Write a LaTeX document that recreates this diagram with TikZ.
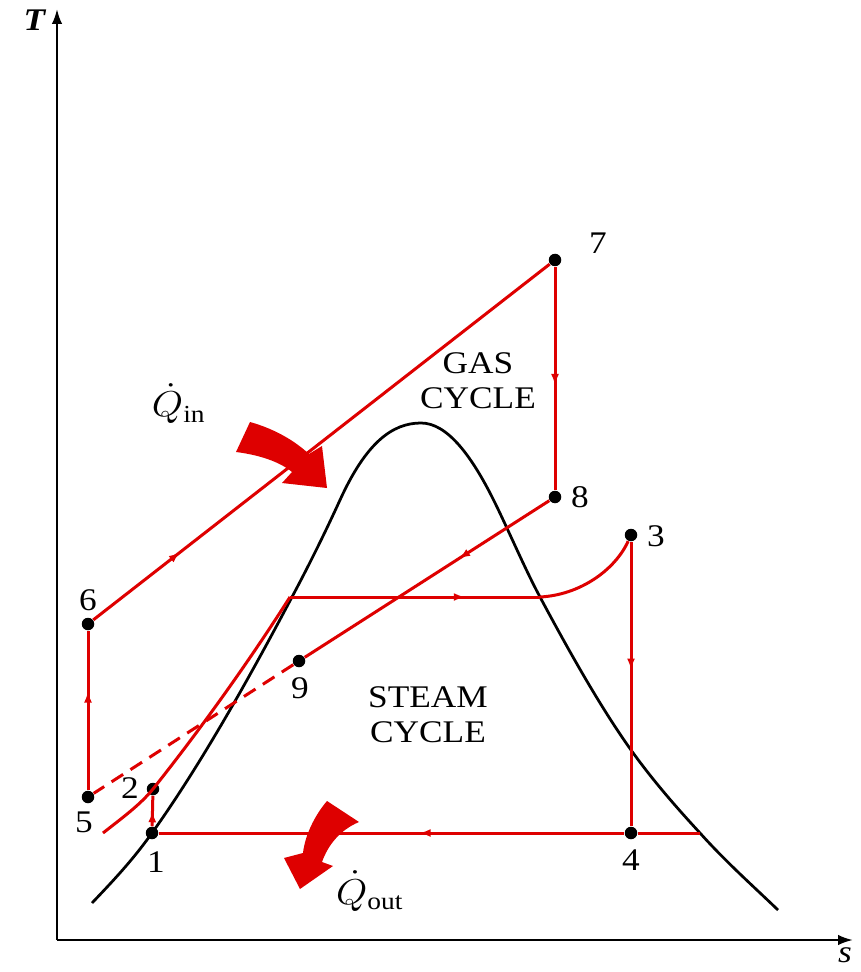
\documentclass[tikz,border=0pt]{standalone}
\usepackage{fontspec}
\setmainfont{Liberation Serif}
\usetikzlibrary{arrows.meta,decorations.markings}
\definecolor{cyclered}{RGB}{222,0,0}
\tikzset{
  state/.style={circle,fill=black,inner sep=0pt,minimum size=5pt},
  proc/.style={cyclered,line width=1.2pt},
  midarrow/.style={postaction={decorate},decoration={markings,
      mark=at position #1 with {\arrow{Latex[length=4.5pt,width=3.2pt]}}}},
  midarrow/.default=0.5,
  lbl/.style={inner sep=0pt,transform shape,xscale=1.12,
      font=\fontsize{12.6}{14}\selectfont},
  heat/.style={lbl,font=\fontsize{14}{16}\selectfont},
}
\begin{document}
\begin{tikzpicture}[x=0.4pt,y=-0.4pt]
   \useasboundingbox (0,0) rectangle (860,972);
   %axis
   \coordinate (origin) at (57,940);
   \coordinate (tend) at (57,9);
   \coordinate (send) at (853,940);
   \draw[line width=0.9pt,-{Latex[length=6pt,width=4.2pt]}] (origin) -- (tend);
   \draw[line width=0.9pt,-{Latex[length=6pt,width=4.2pt]}] (origin) -- (send);
   \node[lbl] (tlabel) at (35,20) {\textbf{\textit{T}}};
   \node[lbl] (slabel) at (845,955) {\textit{s}};
   %dome
   \draw[line width=1.1pt] (92,903) .. controls (112,882) and (132,861) .. (152,833)
      .. controls (199,767) and (245,686) .. (292,597)
      .. controls (308,567) and (324,535) .. (340,500)
      .. controls (366,443) and (392,423) .. (421,423)
      .. controls (447,423) and (472,455) .. (497,507)
      .. controls (511,536) and (526,571) .. (540,597)
      .. controls (570,653) and (601,708) .. (631,750)
      .. controls (654,782) and (677,808) .. (700,833)
      .. controls (726,862) and (752,885) .. (778,910);
   %state points
   \node[state] (s1) at (152,833) {};
   \node[state] (s2) at (153,789) {};
   \node[state] (s3) at (631,535) {};
   \node[state] (s4) at (631,833) {};
   \node[state] (s5) at (88,797) {};
   \node[state] (s6) at (88,624) {};
   \node[state] (s7) at (555,260) {};
   \node[state] (s8) at (555,497) {};
   \node[state] (s9) at (299,661) {};
   \coordinate (satl) at (290,597);
   \coordinate (satv) at (540,597);
   \coordinate (dome4) at (700,833);
   %steam cycle
   \draw[proc,midarrow] (s1) -- (s2);
   \draw[proc] (103,833) .. controls (122,818) and (140,805) .. (153,789)
      .. controls (200,730) and (250,660) .. (satl);
   \draw[proc,midarrow=0.7] (satl) -- (satv);
   \draw[proc] (satv) .. controls (580,595) and (615,570) .. (s3);
   \draw[proc,midarrow=0.45] (s3) -- (s4);
   \draw[proc] (dome4) -- (s4);
   \draw[proc,midarrow=0.44] (s4) -- (s1);
   %gas cycle
   \draw[proc,midarrow=0.62] (s5) -- (s6);
   \draw[proc,midarrow=0.19] (s6) -- (s7);
   \draw[proc,midarrow=0.53] (s7) -- (s8);
   \draw[proc,midarrow=0.37] (s8) -- (s9);
   \draw[proc,dash pattern=on 5.5pt off 3.5pt] (s9) -- (s5);
   %heat arrows
   \fill[cyclered] (250,422) .. controls (275,429) and (295,441) .. (309,454)
      -- (322,446) -- (327,488) -- (282,483) -- (292,472)
      .. controls (280,462) and (260,455) .. (236,452) -- cycle;
   \fill[cyclered] (327,801) .. controls (315,815) and (305,835) .. (303,853)
      -- (284,858) -- (300,889) -- (333,866) -- (322,862)
      .. controls (328,845) and (340,830) .. (359,822) -- cycle;
   %labels
   \node[lbl] (l1) at (156,862) {1};
   \node[lbl] (l2) at (130,788) {2};
   \node[lbl] (l3) at (656,536) {3};
   \node[lbl] (l4) at (631,860) {4};
   \node[lbl] (l5) at (84,822) {5};
   \node[lbl] (l6) at (88,600) {6};
   \node[lbl] (l7) at (598,243) {7};
   \node[lbl] (l8) at (580,497) {8};
   \node[lbl] (l9) at (300,688) {9};
   \node[heat] (qin) at (179,404) {$\dot{Q}_{\mathrm{in}}$};
   \node[heat] (qout) at (370,891) {$\dot{Q}_{\mathrm{out}}$};
   \node[lbl,align=center] (gas) at (478,381) {GAS\\CYCLE};
   \node[lbl,align=center] (steam) at (428,715) {STEAM\\CYCLE};
\end{tikzpicture}
\end{document}
